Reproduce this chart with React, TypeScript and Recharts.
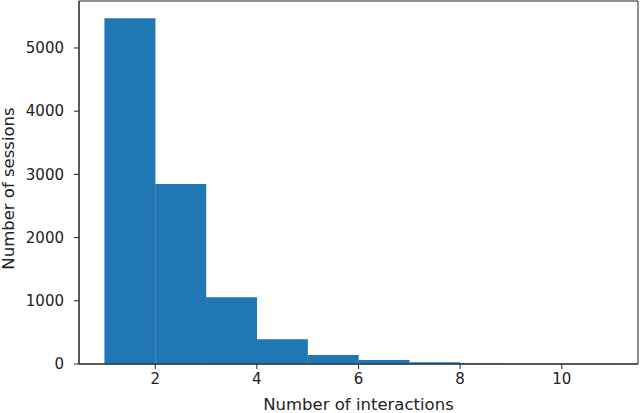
import {
    BarChart,
    Bar,
    XAxis,
    YAxis,
    ReferenceArea,
} from 'recharts';

// histogram bins (left edge .. left edge + 1), value plotted at bin centre
const binCenters = [1.5, 2.5, 3.5, 4.5, 5.5, 6.5, 7.5, 8.5, 9.5, 10.5];
const sessionCounts = [5470, 2848, 1055, 393, 142, 63, 27, 9, 4, 2];
const xTicks = [2, 4, 6, 8, 10];
const yTicks = [0, 1000, 2000, 3000, 4000, 5000];

const data = binCenters.map((x, i) => ({ x, count: sessionCounts[i] }));

const tickStyle = { fontSize: 15, fill: '#222', fontFamily: 'DejaVu Sans' };
const labelStyle = { fontSize: 16.5, fill: '#222', fontFamily: 'DejaVu Sans' };

export default function App() {
    return (
        <div style={{ position: 'absolute', left: 0, top: 0, background: '#fff' }}>
            <BarChart
                width={640}
                height={413}
                data={data}
                barCategoryGap={0}
                barGap={0}
                margin={{ top: 1, right: 2, left: 0, bottom: 0 }}
            >
                <XAxis
                    dataKey="x"
                    type="number"
                    domain={[0.5, 11.5]}
                    ticks={xTicks}
                    allowDataOverflow
                    height={49}
                    tickSize={5}
                    tickMargin={4}
                    stroke="#222"
                    tick={tickStyle}
                    label={{
                        value: 'Number of interactions',
                        position: 'insideBottom',
                        offset: 3,
                        style: labelStyle,
                    }}
                />
                <YAxis
                    type="number"
                    domain={[0, 5743]}
                    ticks={yTicks}
                    allowDataOverflow
                    width={79}
                    tickSize={5}
                    tickMargin={10}
                    stroke="#222"
                    tick={tickStyle}
                    label={{
                        value: 'Number of sessions',
                        angle: -90,
                        position: 'insideLeft',
                        offset: 0,
                        dx: 8,
                        dy: 6,
                        style: { ...labelStyle, textAnchor: 'middle' },
                    }}
                />
                <Bar dataKey="count" fill="#1f77b4" isAnimationActive={false} />
                <ReferenceArea
                    x1={0.5}
                    x2={11.5}
                    y1={0}
                    y2={5743}
                    fill="none"
                    stroke="#222"
                    strokeWidth={1}
                    fillOpacity={0}
                />
            </BarChart>
        </div>
    );
}
